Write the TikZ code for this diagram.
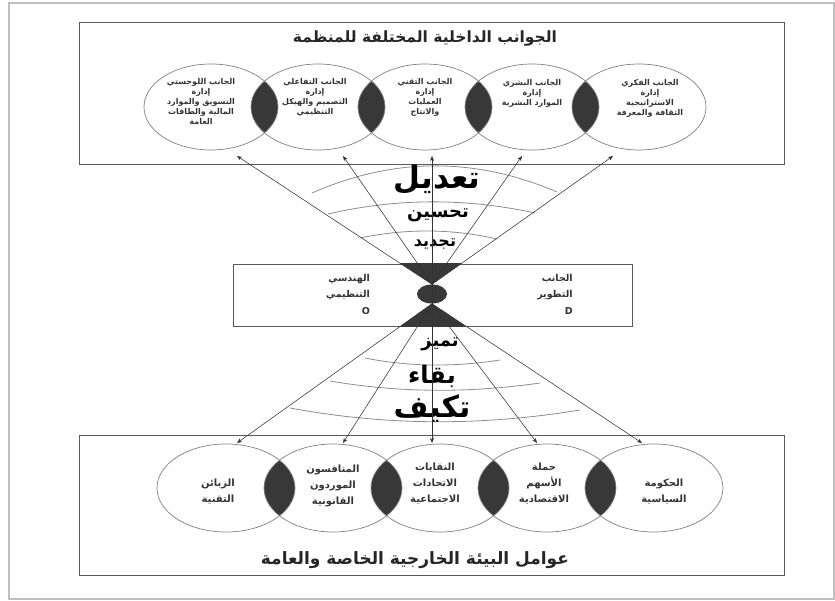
\documentclass[tikz,border=0pt]{standalone}
\usepackage{fontspec}
\newfontfamily\arabicfont[Script=Arabic]{DejaVu Sans}
\TeXXeTstate=1
\usetikzlibrary{shapes.geometric,arrows.meta}
\newcommand{\rl}[1]{\beginR#1\endR}

\tikzset{
  box/.style={draw=black!65, line width=0.9pt, inner sep=0pt},
  topell/.style={ellipse, draw=black!50, line width=0.7pt, minimum width=134pt, minimum height=86pt, inner sep=0pt},
  botell/.style={ellipse, draw=black!50, line width=0.7pt, minimum width=138pt, minimum height=88pt, inner sep=0pt},
  lens/.style={fill=black!78},
  eltext/.style={align=center, inner sep=0pt, text=black!80, font=\arabicfont\bfseries\fontsize{8}{10}\selectfont},
  bottext/.style={align=center, inner sep=0pt, text=black!80, font=\arabicfont\bfseries\fontsize{10}{16}\selectfont},
  midtext/.style={align=right, inner sep=0pt, text=black!80, font=\arabicfont\bfseries\fontsize{9.5}{16.5}\selectfont},
  bigword/.style={inner sep=0pt, font=\arabicfont\bfseries\fontsize{#1}{#1}\selectfont},
  fan/.style={draw=black!80, line width=0.55pt, -{Stealth[length=5pt,width=4pt]}},
  band/.style={draw=black!45, line width=0.8pt}
}

\begin{document}
\begin{tikzpicture}[x=1pt,y=-1pt]
    \useasboundingbox (0,0) rectangle (835,601);
    % outer frame
    \draw[black!25, line width=1.2pt] (9,3) rectangle (834,599);

    % internal side of the organisation
    \node[box, minimum width=705pt, minimum height=142pt] (top) at (431.5,93) {};
    \node[inner sep=0pt, font=\arabicfont\bfseries\fontsize{15.5}{15.5}\selectfont, text=black!85] (toptitle) at (425,39) {\rl{الجوانب الداخلية المختلفة للمنظمة}};

    % the dark overlaps
    \foreach \x in {211,318,425,532} {
        \begin{scope}
            \clip (\x,107) ellipse (67 and 43);
            \fill[lens] (\x+107,107) ellipse (67 and 43);
        \end{scope}
    }
    \foreach \x [count=\i] in {211,318,425,532,639}
        \node[topell] (t\i) at (\x,107) {};

    \node[eltext] (tt1) at (201,102) {\rl{الجانب اللوجستي}\\\rl{إدارة}\\\rl{التسويق والموارد}\\\rl{المالية والطاقات}\\\rl{العامة}};
    \node[eltext] (tt2) at (315,97) {\rl{الجانب التفاعلي}\\\rl{إدارة}\\\rl{التصميم والهيكل}\\\rl{التنظيمي}};
    \node[eltext] (tt3) at (425,97) {\rl{الجانب التقني}\\\rl{إدارة}\\\rl{العمليات}\\\rl{والانتاج}};
    \node[eltext] (tt4) at (532,93) {\rl{الجانب البشري}\\\rl{إدارة}\\\rl{الموارد البشرية}};
    \node[eltext] (tt5) at (650,98) {\rl{الجانب الفكري}\\\rl{إدارة}\\\rl{الاستراتيجية}\\\rl{الثقافة والمعرفة}};

    % external environment
    \node[box, minimum width=705pt, minimum height=140pt] (bot) at (431.5,505) {};
    \node[inner sep=0pt, font=\arabicfont\bfseries\fontsize{17}{17}\selectfont, text=black!85] (bottitle) at (415,560) {\rl{عوامل البيئة الخارجية الخاصة والعامة}};

    \foreach \x in {226,333,440,547} {
        \begin{scope}
            \clip (\x,488) ellipse (69 and 44);
            \fill[lens] (\x+107,488) ellipse (69 and 44);
        \end{scope}
    }
    \foreach \x [count=\i] in {226,333,440,547,654}
        \node[botell] (b\i) at (\x,488) {};

    \node[bottext] (bt1) at (218,492) {\rl{الزبائن}\\\rl{التقنية}};
    \node[bottext] (bt2) at (333,486) {\rl{المنافسون}\\\rl{الموردون}\\\rl{القانونية}};
    \node[bottext] (bt3) at (435,484) {\rl{النقابات}\\\rl{الاتحادات}\\\rl{الاجتماعية}};
    \node[bottext] (bt4) at (544,484) {\rl{حملة}\\\rl{الأسهم}\\\rl{الاقتصادية}};
    \node[bottext] (bt5) at (664,492) {\rl{الحكومة}\\\rl{السياسية}};

    % bands of the two fans
    \draw[band] (312,193) .. controls (394,157) and (475,157) .. (557,192);
    \draw[band] (328,214) .. controls (397,198) and (466,198) .. (535,213);
    \draw[band] (360,238) .. controls (406,228.5) and (451,228.5) .. (497,239);
    \draw[band] (365,358) .. controls (410,367) and (455,367) .. (500,360);
    \draw[band] (330,381) .. controls (400,393) and (470,393) .. (540,383);
    \draw[band] (290,408) .. controls (387,426) and (483,426) .. (580,410);

    \node[bigword=31] (w1) at (437,180) {\rl{تعديل}};
    \node[bigword=18] (w2) at (438,215) {\rl{تحسين}};
    \node[bigword=16] (w3) at (435,244) {\rl{تجديد}};
    \node[bigword=18] (w4) at (440,344) {\rl{تميز}};
    \node[bigword=24] (w5) at (432,376) {\rl{بقاء}};
    \node[bigword=30] (w6) at (432,409) {\rl{تكيف}};

    % middle box
    \node[box, fill=white, minimum width=399pt, minimum height=62pt] (mid) at (432.5,295) {};
    \node[midtext] (ml) at (348,294) {\rl{الهندسي}\\\rl{التنظيمي}\\O\hspace{8pt}};
    \node[midtext] (mr) at (555,294) {\rl{الجانب}\\\rl{التطوير}\\D\hspace{8pt}};

    % arrow tips
    \foreach \x [count=\i] in {237,343,432,522,613}
        \coordinate (ta\i) at (\x,156);
    \foreach \x [count=\i] in {237,343,432,537,642}
        \coordinate (tb\i) at (\x,443);

    \node[ellipse, lens, minimum width=30pt, minimum height=19pt, inner sep=0pt] (hub) at (432,294) {};

    % the dark funnel inside the middle box
    \begin{scope}
        \clip (mid.south west) rectangle (mid.north east);
        \fill[lens] (hub.north) -- (ta1) -- (ta5) -- cycle;
        \fill[lens] (hub.south) -- (tb1) -- (tb5) -- cycle;
    \end{scope}

    \foreach \i in {1,2,4,5} {
        \draw[fan] (hub.north) -- (ta\i);
        \draw[fan] (hub.south) -- (tb\i);
    }
    \draw[fan, {Stealth[length=5pt,width=4pt]}-{Stealth[length=5pt,width=4pt]}] (tb3) -- (ta3);
\end{tikzpicture}
\end{document}
